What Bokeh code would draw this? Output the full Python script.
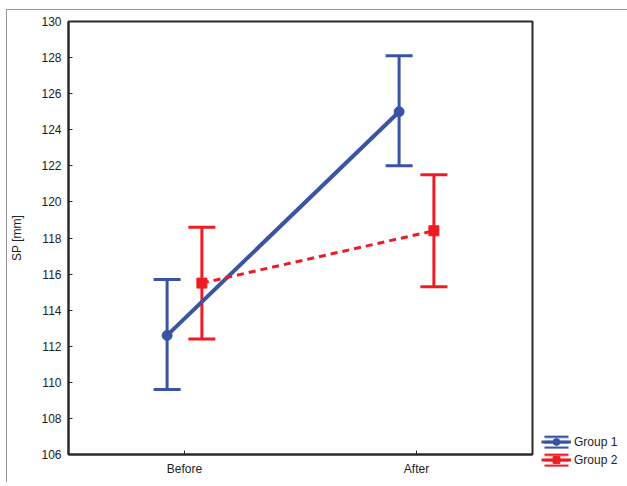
from bokeh.plotting import figure
from bokeh.models import (ColumnDataSource, FactorRange, Whisker, TeeHead, Legend,
                          LegendItem, FixedTicker, Range1d)
from bokeh.transform import dodge
from bokeh.embed import file_html
from bokeh.resources import INLINE

categories = ["Before", "After"]
groups = ["Group 1", "Group 2"]
g1_mean = [112.6, 125.0]
g1_lower = [109.6, 122.0]
g1_upper = [115.7, 128.1]
g2_mean = [115.5, 118.4]
g2_lower = [112.4, 115.3]
g2_upper = [118.6, 121.5]
y_ticks = list(range(106, 131, 2))
y_min, y_max = 106, 130

BLUE = "#3a54a4"
RED = "#ed1c24"
FONT = "Liberation Sans"
INK = "#2b2b2b"

p = figure(x_range=FactorRange(*categories, range_padding=0), y_range=Range1d(y_min, y_max),
           frame_width=464, frame_height=433,
           min_border_left=61, min_border_top=11, min_border_bottom=28, min_border_right=0,
           output_backend="svg", toolbar_location=None)
p.styles = {"border-left": "1px solid #999999", "border-top": "1px solid #999999",
            "margin-left": "6px", "margin-top": "9px"}

p.xgrid.visible = False
p.ygrid.visible = False
p.outline_line_color = INK
p.outline_line_width = 2
p.outline_line_alpha = 1

for ax in (p.xaxis, p.yaxis):
    ax.axis_line_color = INK
    ax.axis_line_width = 2
    ax.major_tick_in = 4
    ax.major_tick_out = 0
    ax.minor_tick_line_color = None
    ax.major_tick_line_color = INK
    ax.major_tick_line_width = 1
    ax.major_label_text_font = FONT
    ax.major_label_text_font_size = "12px"
    ax.major_label_text_color = "#222222"
    ax.axis_label_text_font = FONT
    ax.axis_label_text_font_size = "12px"
    ax.axis_label_text_font_style = "normal"
    ax.axis_label_text_color = "#222222"

p.yaxis.ticker = FixedTicker(ticks=y_ticks)
p.yaxis.axis_label = "SP [mm]"
p.yaxis.major_label_standoff = 7
p.yaxis.axis_label_standoff = 14
p.xaxis.major_label_standoff = 7

specs = [
    ("Group 1", g1_mean, g1_lower, g1_upper, -0.075, BLUE, "solid", 4, "circle"),
    ("Group 2", g2_mean, g2_lower, g2_upper, 0.075, RED, "7 5", 3, "square"),
]
items = []
for name, mean, lower, upper, off, col, dash, lw, marker in specs:
    src = ColumnDataSource(dict(x=categories, mean=mean, lower=lower, upper=upper))
    w = Whisker(base=dodge("x", off, range=p.x_range), upper="upper", lower="lower",
                source=src, line_color=col, line_width=3,
                upper_head=TeeHead(size=27, line_color=col, line_width=3),
                lower_head=TeeHead(size=27, line_color=col, line_width=3))
    p.add_layout(w)
    p.line(x=dodge("x", off, range=p.x_range), y="mean", source=src,
           line_color=col, line_width=lw, line_dash=dash)
    mk = p.scatter(x=dodge("x", off, range=p.x_range), y="mean", source=src,
                   marker=marker, size=10, fill_color=col, line_color=col)
    # legend-only glyphs: error-bar look (horizontal bars) + marker
    bars = p.rect(x=["Before"], y=[float("nan")], width=0, height=0,
                  fill_color=None, line_color=None, hatch_pattern="horizontal_line",
                  hatch_color=col, hatch_scale=5.5, hatch_weight=2.5)
    lg = p.line(x=["Before"], y=[float("nan")], line_color=col, line_width=3)
    items.append(LegendItem(label=name, renderers=[bars, lg, mk]))

legend = Legend(items=items, location=(9, -14), orientation="vertical",
                label_text_font=FONT, label_text_font_size="12px", label_text_color="#222222",
                glyph_width=30, glyph_height=17, label_height=17, spacing=1,
                padding=0, margin=0, border_line_color=None, background_fill_alpha=0,
                label_standoff=3)
p.add_layout(legend, "right")

open("out.html", "w").write(file_html(p, INLINE))
